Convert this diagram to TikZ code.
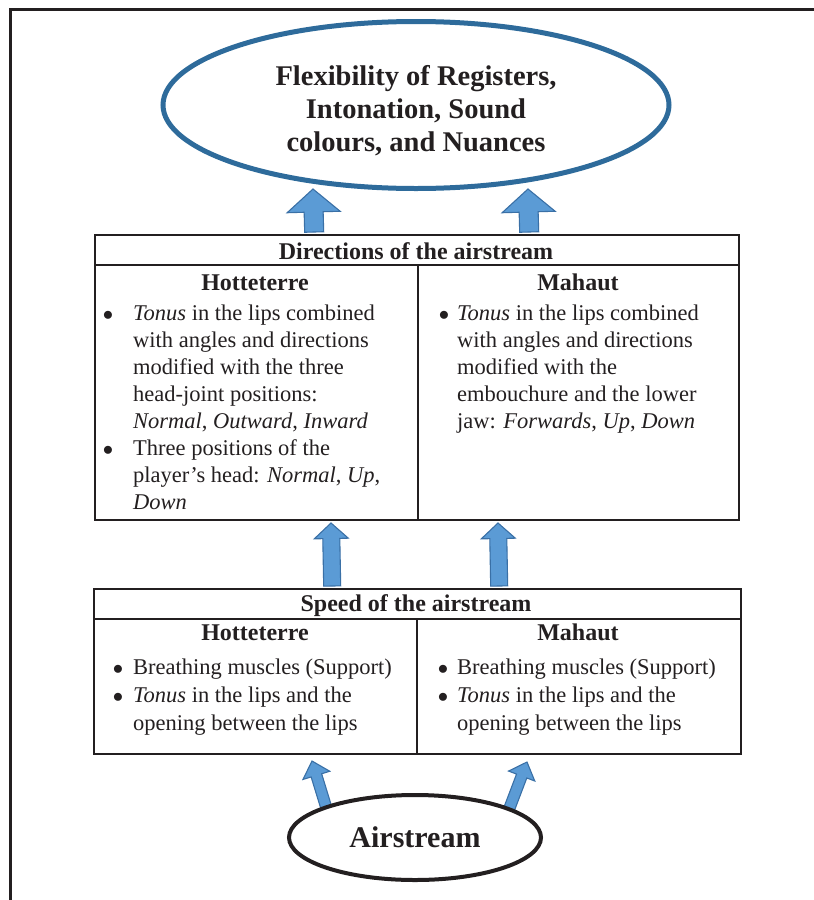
\documentclass[tikz,border=0pt]{standalone}
\usepackage{fontspec}
\setmainfont{Liberation Serif}
\usetikzlibrary{calc,shapes.geometric}

\definecolor{ink}{HTML}{231F20}
\definecolor{ringblue}{HTML}{2E6B9B}
\definecolor{arrowfill}{HTML}{5B9BD5}
\definecolor{arrowedge}{HTML}{3A70A6}

\tikzset{
  frameline/.style={draw=ink, line width=3pt},
  boxline/.style={draw=ink, line width=2.4pt},
  panel/.style={boxline, rectangle, inner sep=0pt, anchor=north west},
  fatarrow/.style={fill=arrowfill, draw=arrowedge, line width=1.1pt, line join=miter},
  headtext/.style={font=\fontsize{24}{28}\selectfont\bfseries, text=ink, inner sep=0pt, anchor=base},
  bodytext/.style={font=\fontsize{22.5}{27.1}\selectfont, text=ink, inner sep=0pt, align=left, anchor=north west},
  bullettext/.style={font=\fontsize{22.5}{27.1}\selectfont, text=ink, inner sep=0pt, anchor=base},
}

% block arrow from tail #1 to tip #2: shaft half-width #3, head half-width #4, head length #5
\newcommand\blockarrow[5]{%
  \path ($(#2)!#5!(#1)$) coordinate (ba-h);
  \draw[fatarrow]
    ($(#1)!#3!90:(#2)$) -- ($(ba-h)!#3!90:(#2)$) -- ($(ba-h)!#4!90:(#2)$) --
    (#2) --
    ($(ba-h)!#4!-90:(#2)$) -- ($(ba-h)!#3!-90:(#2)$) -- ($(#1)!#3!-90:(#2)$) -- cycle;
}
\newcommand\itemdot{$\bullet$}

\begin{document}
\begin{tikzpicture}[x=1pt, y=-1pt]
  \useasboundingbox (0,0) rectangle (814,900);

  % page frame
  \draw[frameline] (814,9.5) -- (10.5,9.5) -- (10.5,900);

  % goal ellipse
  \node[ellipse, draw=ringblue, line width=5pt, minimum width=506pt, minimum height=167pt,
        inner sep=0pt, align=center, text=ink,
        font=\fontsize{28.5}{33}\selectfont\bfseries] (goal) at (416,105)
        {\rule{0pt}{32pt}Flexibility of Registers,\\Intonation, Sound\\colours, and Nuances};

  % directions panel
  \node[panel, minimum width=644pt, minimum height=285pt] (dir) at (94,234) {};
  \draw[boxline] ($(dir.north west)+(0,31)$) -- ($(dir.north east)+(0,31)$);
  \draw[boxline] ($(dir.north)+(1,31)$) -- ($(dir.south)+(1,0)$);
  \node[headtext] (dirhead) at (416,259) {Directions of the airstream};
  \node[headtext] (dirH) at (255,290) {Hotteterre};
  \node[headtext] (dirM) at (578,290) {Mahaut};
  \node[bullettext] (dHb1) at (108,320) {\itemdot};
  \node[bullettext] (dHb2) at (108,455.5) {\itemdot};
  \node[bodytext] (dHt) at (133,301) {\strut\textit{Tonus} in the lips combined\\
    with angles and directions\\modified with the three\\head-joint positions:\\
    \textit{Normal}, \textit{Outward}, \textit{Inward}\\Three positions of the\\
    player’s head: \textit{Normal}, \textit{Up},\\\textit{Down}};
  \node[bullettext] (dMb1) at (444,320) {\itemdot};
  \node[bodytext] (dMt) at (457,301) {\strut\textit{Tonus} in the lips combined\\
    with angles and directions\\modified with the\\embouchure and the lower\\
    jaw: \textit{Forwards}, \textit{Up}, \textit{Down}};

  % speed panel
  \node[panel, minimum width=647pt, minimum height=165pt] (spd) at (93,588) {};
  \draw[boxline] ($(spd.north west)+(0,31)$) -- ($(spd.north east)+(0,31)$);
  \draw[boxline] ($(spd.north)+(-0.5,31)$) -- ($(spd.south)+(-0.5,0)$);
  \node[headtext] (spdhead) at (416,611) {Speed of the airstream};
  \node[headtext] (spdH) at (255,640) {Hotteterre};
  \node[headtext] (spdM) at (578,640) {Mahaut};
  \node[bullettext] (sHb1) at (118,674) {\itemdot};
  \node[bullettext] (sHb2) at (118,702) {\itemdot};
  \node[bodytext, font=\fontsize{22.5}{28}\selectfont] (sHt) at (133,654.4)
    {\strut Breathing muscles (Support)\\\textit{Tonus} in the lips and the\\opening between the lips};
  \node[bullettext] (sMb1) at (443,674) {\itemdot};
  \node[bullettext] (sMb2) at (443,702) {\itemdot};
  \node[bodytext, font=\fontsize{22.5}{28}\selectfont] (sMt) at (457,654.4)
    {\strut Breathing muscles (Support)\\\textit{Tonus} in the lips and the\\opening between the lips};

  % arrow end points
  \coordinate (u1t) at ($(dir.north)+(-103,-2)$);
  \coordinate (u1h) at (313,189);
  \coordinate (u2t) at ($(dir.north)+(112,-2)$);
  \coordinate (u2h) at (528,189);
  \coordinate (m1t) at ($(spd.north)+(-85.5,-2)$);
  \coordinate (m1h) at (331,523);
  \coordinate (m2t) at ($(spd.north)+(81.5,-2)$);
  \coordinate (m2h) at (498,523);
  \coordinate (b1t) at (327,810);
  \coordinate (b1h) at (312,761);
  \coordinate (b2t) at (508,812);
  \coordinate (b2h) at (527,762);

  \blockarrow{u1t}{u1h}{9.5pt}{26.5pt}{23pt}
  \blockarrow{u2t}{u2h}{9.5pt}{26.5pt}{23pt}
  \blockarrow{m1t}{m1h}{8.5pt}{17pt}{15.5pt}
  \blockarrow{m2t}{m2h}{8.5pt}{17pt}{15.5pt}
  \blockarrow{b1t}{b1h}{5.5pt}{14pt}{15pt}
  \blockarrow{b2t}{b2h}{5.5pt}{14pt}{15pt}

  % source ellipse
  \node[ellipse, draw=ink, fill=white, line width=4pt, minimum width=252pt, minimum height=85pt,
        inner sep=0pt, text=ink, font=\fontsize{30}{34}\selectfont\bfseries] (src) at (415,837.5)
        {Airstream};
\end{tikzpicture}
\end{document}
